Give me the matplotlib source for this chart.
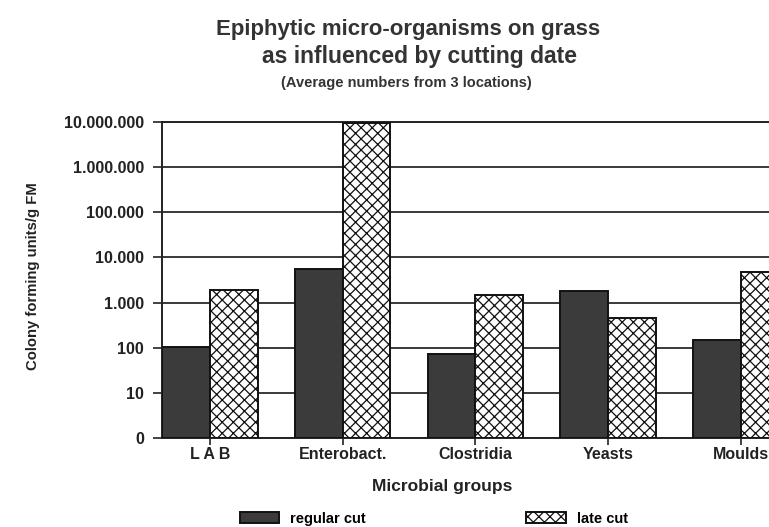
import matplotlib.pyplot as plt
import numpy as np
from matplotlib.ticker import FixedLocator, NullLocator

groups = ["L A B", "Enterobact.", "Clostridia", "Yeasts", "Moulds"]
regular_cut = [105, 5600, 73, 1800, 150]
late_cut = [1900, 9500000, 1480, 460, 4800]
y_ticks = [1, 10, 100, 1000, 10000, 100000, 1000000, 10000000]
y_tick_labels = ["0", "10", "100", "1.000", "10.000", "100.000", "1.000.000", "10.000.000"]

plt.rcParams['font.family'] = ['Liberation Sans', 'DejaVu Sans']
plt.rcParams['font.weight'] = 'bold'
plt.rcParams['hatch.linewidth'] = 0.9

fig = plt.figure(figsize=(7.69, 5.27), dpi=100)
ax = fig.add_axes([0.2107, 0.1689, 0.815, 0.5996])

x = np.arange(len(groups))
w = 0.36
ax.set_yscale('log')
bars_reg = ax.bar(x - w / 2, regular_cut, width=w, bottom=1, color='#3b3b3b',
                  edgecolor='#111111', linewidth=1.4, zorder=3, label='regular cut')
bars_late = ax.bar(x + w / 2, late_cut, width=w, bottom=1, color='white', hatch='xxx',
                   edgecolor='#111111', linewidth=1.4, zorder=3, label='late cut')

ax.set_ylim(1, 10000000)
ax.set_xlim(-w, len(groups) - 1 + w)
ax.yaxis.set_major_locator(FixedLocator(y_ticks))
ax.yaxis.set_minor_locator(NullLocator())
ax.set_yticklabels(y_tick_labels, fontsize=11.5, fontweight='bold', color='#222222')
ax.set_xticks(x)
ax.set_xticklabels(groups, fontsize=11.5, fontweight='bold', color='#222222')
ax.tick_params(axis='y', length=6.5, width=1.2, color='#222222', pad=6.5)
ax.tick_params(axis='x', length=5, width=1.2, color='#222222', pad=1.5)
ax.yaxis.grid(True, color='#2a2a2a', linewidth=1.3, zorder=0)
ax.set_axisbelow(True)
for side in ['left', 'bottom', 'top']:
    ax.spines[side].set_linewidth(1.4)
    ax.spines[side].set_color('#222222')
ax.spines['right'].set_visible(False)

fig.text(0.043, 0.476, "Colony forming units/g FM", rotation=90, ha='center', va='center',
         fontsize=10.7, fontweight='bold', color='#222222')
fig.text(0.575, 0.076, "Microbial groups", ha='center', va='center',
         fontsize=12.5, fontweight='bold', color='#222222')

fig.text(0.531, 0.944, "Epiphytic micro-organisms on grass", ha='center', va='center',
         fontsize=16, fontweight='bold', color='#333333')
fig.text(0.546, 0.892, "as influenced by cutting date", ha='center', va='center',
         fontsize=16.5, fontweight='bold', color='#333333')
fig.text(0.528, 0.843, "(Average numbers from 3 locations)", ha='center', va='center',
         fontsize=10.5, fontweight='bold', color='#333333')

fig.legend(handles=[bars_reg, bars_late], loc='center left', bbox_to_anchor=(0.312, 0.016),
           ncol=2, frameon=False, fontsize=10.5, columnspacing=11.0, handlelength=2.7,
           handleheight=0.7, handletextpad=0.75, borderpad=0, borderaxespad=0)

fig.savefig('out.png', dpi=100)
